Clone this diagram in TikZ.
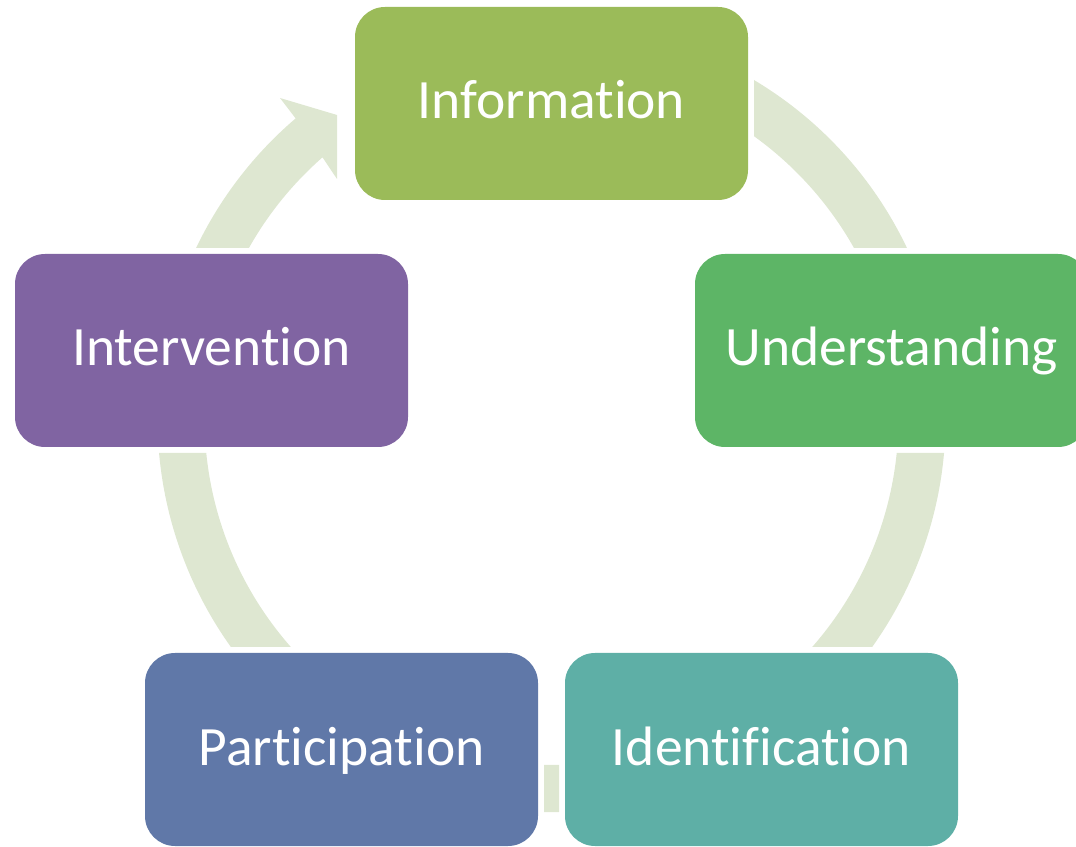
\documentclass[tikz,border=0pt]{standalone}
\usepackage{fontspec}
\setmainfont[Ligatures={NoCommon}]{Carlito}
\usetikzlibrary{calc}
\definecolor{cInfo}{HTML}{9BBB59}
\definecolor{cUnder}{HTML}{5DB566}
\definecolor{cIdent}{HTML}{5EAFA6}
\definecolor{cPart}{HTML}{6078A8}
\definecolor{cInter}{HTML}{8064A2}
\definecolor{cRing}{HTML}{DEE7D1}
\tikzset{
  stagebox/.style={rectangle, rounded corners=30pt, minimum width=393pt,
    minimum height=193pt, inner sep=0pt, draw=none, text=white,
    font=\fontsize{55.5}{60}\selectfont, text height=40pt, text depth=9pt},
  ring/.style={fill=cRing, draw=none}
}
\begin{document}
\begin{tikzpicture}[x=1pt,y=1pt]
\useasboundingbox (0,0) rectangle (1076,846);
\clip (0,0) rectangle (1076,846);
\coordinate (C) at (551.5,428);
% ring connector, cut where it passes under the boxes
\begin{scope}[even odd rule]
\clip (-20,-20) rectangle (1100,870)
  (349,640) rectangle (754,845)
  (689,393) rectangle (1094,598)
  (9,393) rectangle (414,598)
  (139,-6) rectangle (544,199)
  (559,-6) rectangle (964,199);
\fill[ring] ($(C)+(130.5:394pt)$) -- ($(C)+(-271.5,320)$) -- ($(C)+(-214.5,303)$)
  -- ($(C)+(-214.5,239)$) -- ($(C)+(131.3:347pt)$)
  arc[start angle=131.3, end angle=422, radius=347pt]
  -- ($(C)+(422:394pt)$)
  arc[start angle=422, end angle=130.5, radius=394pt] -- cycle;
\end{scope}
\node[stagebox, fill=cInfo]  (info)  at (551.5,742.5) {Information};
\node[stagebox, fill=cUnder] (under) at (891.5,495.5) {Understanding};
\node[stagebox, fill=cIdent] (ident) at (761.5,96.5)  {Identification};
\node[stagebox, fill=cPart]  (part)  at (341.5,96.5)  {Participation};
\node[stagebox, fill=cInter] (inter) at (211.5,495.5) {Intervention};
\end{tikzpicture}
\end{document}
